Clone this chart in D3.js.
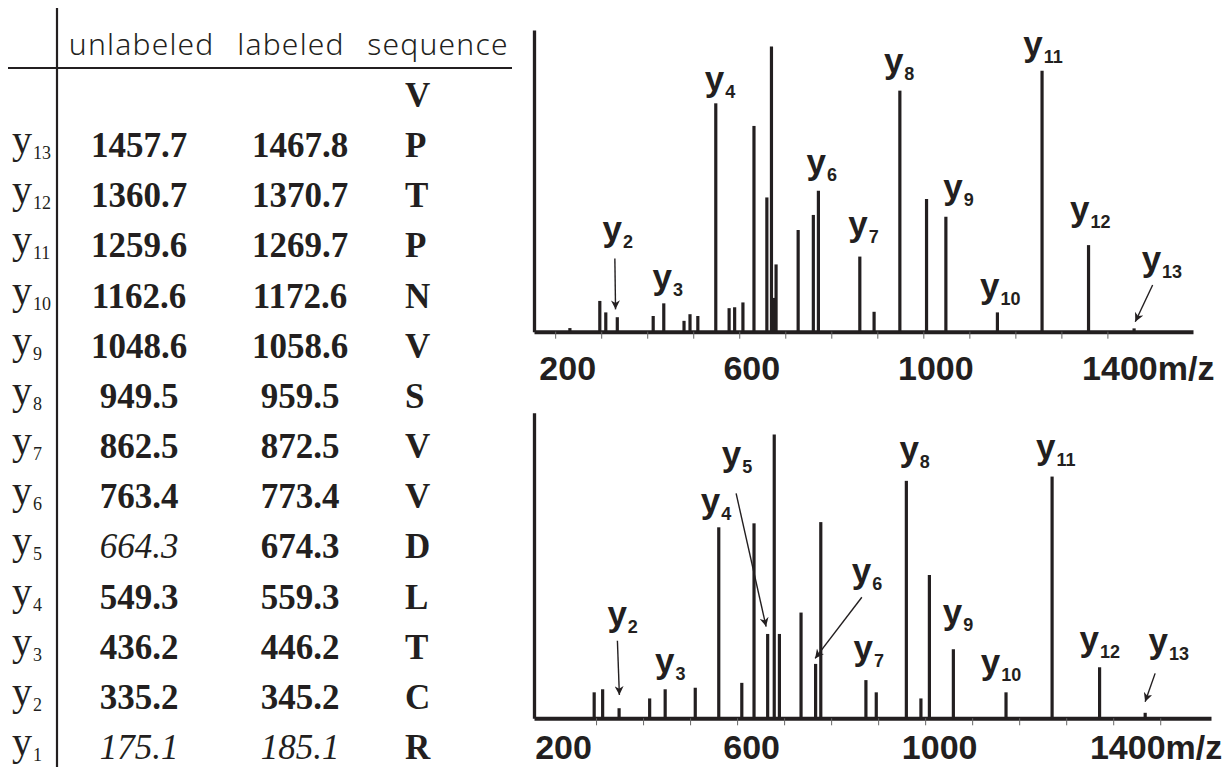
<!DOCTYPE html>
<html lang="en">
<head>
    <title>y-ion table and MS/MS spectra</title>
    <script src="https://d3js.org/d3.v7.min.js"></script>
    <style>
        body { margin: 0; background: #fff; }
        svg text { fill: #231f20; }
    </style>
</head>
<body>
    <svg id="chart"></svg>

    <script>
        var width = 1228;
        var height = 767;
        var ink = "#231f20";

        // table data
        var ionNumbers = [13, 12, 11, 10, 9, 8, 7, 6, 5, 4, 3, 2, 1];
        var unlabeledMz = [1457.7, 1360.7, 1259.6, 1162.6, 1048.6, 949.5, 862.5, 763.4, 664.3, 549.3, 436.2, 335.2, 175.1];
        var labeledMz = [1467.8, 1370.7, 1269.7, 1172.6, 1058.6, 959.5, 872.5, 773.4, 674.3, 559.3, 446.2, 345.2, 185.1];
        // false = shown in italics in the table
        var unlabeledSeen = [true, true, true, true, true, true, true, true, false, true, true, true, false];
        var labeledSeen = [true, true, true, true, true, true, true, true, true, true, true, true, false];
        var sequence = ["V", "P", "T", "P", "N", "V", "S", "V", "V", "D", "L", "T", "C", "R"];
        var headers = ["unlabeled", "labeled", "sequence"];

        // top spectrum (unlabeled)
        var topMz = [232, 297, 310, 335, 413, 436, 480, 493, 510, 549, 578, 590, 608, 632, 660, 670, 676, 680,
                     728, 761, 772, 862, 893, 949, 1007, 1049, 1161, 1258, 1359, 1458];
        var topIntensity = [1.2, 10.2, 6.4, 4.8, 5.2, 9.4, 3.6, 5.8, 5.2, 75.7, 7.8, 8.1, 9.7, 68.2, 44.5, 94.5, 11.2, 22.3,
                            33.7, 38.7, 46.7, 24.9, 6.6, 79.9, 44, 38.1, 6.4, 86.5, 28.7, 1.1];
        // bottom spectrum (labeled)
        var bottomMz = [296, 314, 349, 414, 447, 511, 561, 610, 636, 665, 679, 690, 736, 767, 778, 874, 896,
                        960, 991, 1009, 1060, 1172, 1270, 1371, 1468];
        var bottomIntensity = [8.5, 9.5, 3.3, 6.5, 9.5, 10, 62.5, 11.6, 63.8, 27.6, 92.9, 27.6, 34.6, 17.8, 64.2, 12.5, 8.5,
                               77.7, 6.5, 46.9, 22.6, 8.5, 79.1, 16.7, 1.8];

        var topTicks = [200, 300, 400, 500, 600, 700, 800, 900, 1000, 1100, 1200, 1300, 1400];
        var bottomTicks = [200, 300, 400, 500, 600, 700, 800, 900, 1000, 1100, 1200, 1300, 1400, 1500];
        var tickLabels = [200, 600, 1000, 1400];

        // peak labels: ion number, anchor m/z, anchor intensity
        var topLabelIon = [2, 3, 4, 6, 7, 8, 9, 10, 11, 12, 13];
        var topLabelMz = [303, 411.6, 525.3, 746.3, 836.7, 914.3, 1043.2, 1123, 1217.1, 1318.6, 1474.4];
        var topLabelAt = [30.1, 14.2, 79.8, 52.3, 31.7, 85.7, 44, 11.2, 91.4, 36.7, 20.1];
        var bottomLabelIon = [2, 3, 4, 5, 6, 7, 8, 9, 10, 11, 12, 13];
        var bottomLabelMz = [324.1, 425.6, 522.8, 567.5, 844, 847.4, 945.2, 1037.6, 1118.4, 1236, 1328.1, 1474.9];
        var bottomLabelAt = [30.2, 14.8, 67.2, 82.6, 44.3, 19.1, 84.2, 30.9, 14.5, 84.8, 22, 21.4];

        // arrows: [mz from, intensity from, mz to, intensity to]
        var topArrows = [[329.7, 24.3, 331.2, 7.4], [1498.3, 15.5, 1460.6, 3.3]];
        var bottomArrows = [[345.4, 25.4, 349.6, 7.6], [597.9, 73.6, 661.7, 30], [865.3, 39.6, 765.9, 19.6], [1489.2, 14.7, 1467.9, 5.4]];

        var svg = d3.select("#chart")
            .attr("width", width)
            .attr("height", height);

        svg.append("defs").append("marker")
            .attr("id", "head")
            .attr("viewBox", "0 0 10 10")
            .attr("refX", 10).attr("refY", 5)
            .attr("markerUnits", "userSpaceOnUse")
            .attr("markerWidth", 11).attr("markerHeight", 9)
            .attr("orient", "auto")
            .append("path")
            .attr("d", "M0,0 L10,5 L0,10 L3,5 Z")
            .attr("fill", ink);

        // ---------- table ----------
        var table = svg.append("g");
        var rowY = d3.scaleLinear().domain([0, 13]).range([107, 759]);
        var fmt = d3.format(".1f");
        var serif = "'Liberation Serif', 'Times New Roman', serif";

        table.append("line")
            .attr("x1", 57).attr("x2", 57).attr("y1", 8).attr("y2", height)
            .attr("stroke", ink).attr("stroke-width", 2.2);
        table.append("line")
            .attr("x1", 8).attr("x2", 512).attr("y1", 68).attr("y2", 68)
            .attr("stroke", ink).attr("stroke-width", 2.2);

        var headX = d3.scaleOrdinal().domain(headers).range([141.7, 291, 438]);
        table.selectAll("text.head")
            .data(headers)
            .join("text")
            .attr("class", "head")
            .attr("x", function (d) { return headX(d); })
            .attr("y", 55)
            .attr("text-anchor", "middle")
            .style("font-family", "'Noto Sans', 'DejaVu Sans', sans-serif")
            .style("font-weight", 300)
            .style("font-size", "30px")
            .style("letter-spacing", "1.2px")
            .text(function (d) { return d; });

        var rows = table.selectAll("g.row")
            .data(ionNumbers)
            .join("g")
            .attr("class", "row")
            .attr("transform", function (d, i) { return "translate(0," + rowY(i + 1) + ")"; });

        var ionLabel = rows.append("text")
            .attr("x", 12)
            .attr("y", -4)
            .style("font-family", serif);
        ionLabel.append("tspan").style("font-size", "40px").text("y");
        ionLabel.append("tspan").attr("dy", 6).attr("dx", 1).style("font-size", "18px")
            .text(function (d) { return d; });

        rows.append("text")
            .attr("x", 139)
            .attr("text-anchor", "middle")
            .style("font-family", serif)
            .style("font-size", "35px")
            .style("font-weight", function (d, i) { return unlabeledSeen[i] ? "bold" : "normal"; })
            .style("font-style", function (d, i) { return unlabeledSeen[i] ? "normal" : "italic"; })
            .text(function (d, i) { return fmt(unlabeledMz[i]); });

        rows.append("text")
            .attr("x", 300)
            .attr("text-anchor", "middle")
            .style("font-family", serif)
            .style("font-size", "35px")
            .style("font-weight", function (d, i) { return labeledSeen[i] ? "bold" : "normal"; })
            .style("font-style", function (d, i) { return labeledSeen[i] ? "normal" : "italic"; })
            .text(function (d, i) { return fmt(labeledMz[i]); });

        table.selectAll("text.seq")
            .data(sequence)
            .join("text")
            .attr("class", "seq")
            .attr("x", 405)
            .attr("y", function (d, i) { return rowY(i); })
            .style("font-family", serif)
            .style("font-size", "35px")
            .style("font-weight", "bold")
            .text(function (d) { return d; });

        // ---------- spectra ----------
        function drawSpectrum(opts) {
            var g = svg.append("g");
            var x = d3.scaleLinear().domain(opts.domain).range(opts.xRange);
            var y = d3.scaleLinear().domain([0, 100]).range(opts.yRange);

            var xaxis = d3.axisBottom(x)
                .tickValues(opts.ticks)
                .tickSize(7)
                .tickSizeOuter(0)
                .tickFormat(function (d) { return tickLabels.indexOf(d) >= 0 ? d : ""; });
            var ax = g.append("g")
                .attr("transform", "translate(0," + y(0) + ")")
                .call(xaxis);
            ax.select(".domain").attr("stroke", ink).attr("stroke-width", 4);
            ax.selectAll(".tick line").attr("stroke", "#666").attr("stroke-width", 1);
            ax.selectAll(".tick")
                .filter(function (d) { return d < opts.firstTick; })
                .select("line").remove();
            ax.selectAll(".tick text")
                .attr("fill", ink)
                .attr("y", opts.labelY)
                .attr("dy", 0)
                .style("font-family", "'Liberation Sans', Arial, sans-serif")
                .style("font-weight", "bold")
                .style("font-size", "34px")
                .attr("text-anchor", "start")
                .each(function (d) {
                    var t = d3.select(this);
                    if (t.text() === "") return;
                    var w = this.getComputedTextLength();
                    t.attr("x", opts.labelShift - w / 2);
                    if (d === 1400) t.append("tspan").text("m/z");
                });

            var yaxis = d3.axisLeft(y).tickValues([]).tickSizeOuter(0);
            var ay = g.append("g")
                .attr("transform", "translate(" + opts.xRange[0] + ",0)")
                .call(yaxis);
            ay.select(".domain").attr("stroke", ink).attr("stroke-width", 3.3);

            g.selectAll("line.peak")
                .data(d3.zip(opts.mz, opts.intensity))
                .join("line")
                .attr("class", "peak")
                .attr("x1", function (d) { return x(d[0]); })
                .attr("x2", function (d) { return x(d[0]); })
                .attr("y1", y(0))
                .attr("y2", function (d) { return y(d[1]); })
                .attr("stroke", ink)
                .attr("stroke-width", 3.2);

            var labels = g.selectAll("text.ion")
                .data(opts.labelIon)
                .join("text")
                .attr("class", "ion")
                .attr("x", function (d, i) { return x(opts.labelMz[i]); })
                .attr("y", function (d, i) { return y(opts.labelAt[i]); })
                .style("font-family", "'Liberation Sans', Arial, sans-serif")
                .style("font-weight", "bold");
            labels.append("tspan").style("font-size", "35px").text("y");
            labels.append("tspan").attr("dy", 7).attr("dx", 1).style("font-size", "18px")
                .text(function (d) { return d; });

            g.selectAll("line.arrow")
                .data(opts.arrows)
                .join("line")
                .attr("class", "arrow")
                .attr("x1", function (d) { return x(d[0]); })
                .attr("y1", function (d) { return y(d[1]); })
                .attr("x2", function (d) { return x(d[2]); })
                .attr("y2", function (d) { return y(d[3]); })
                .attr("stroke", ink)
                .attr("stroke-width", 1.4)
                .attr("marker-end", "url(#head)");
        }

        drawSpectrum({
            domain: [154, 1586], xRange: [534, 1193], yRange: [331.7, 30],
            ticks: topTicks, firstTick: 200, labelShift: 12, labelY: 48,
            mz: topMz, intensity: topIntensity,
            labelIon: topLabelIon, labelMz: topLabelMz, labelAt: topLabelAt,
            arrows: topArrows
        });
        drawSpectrum({
            domain: [168, 1608], xRange: [534, 1211], yRange: [718.3, 412.7],
            ticks: bottomTicks, firstTick: 300, labelShift: 14, labelY: 41,
            mz: bottomMz, intensity: bottomIntensity,
            labelIon: bottomLabelIon, labelMz: bottomLabelMz, labelAt: bottomLabelAt,
            arrows: bottomArrows
        });
    </script>
</body>
</html>
